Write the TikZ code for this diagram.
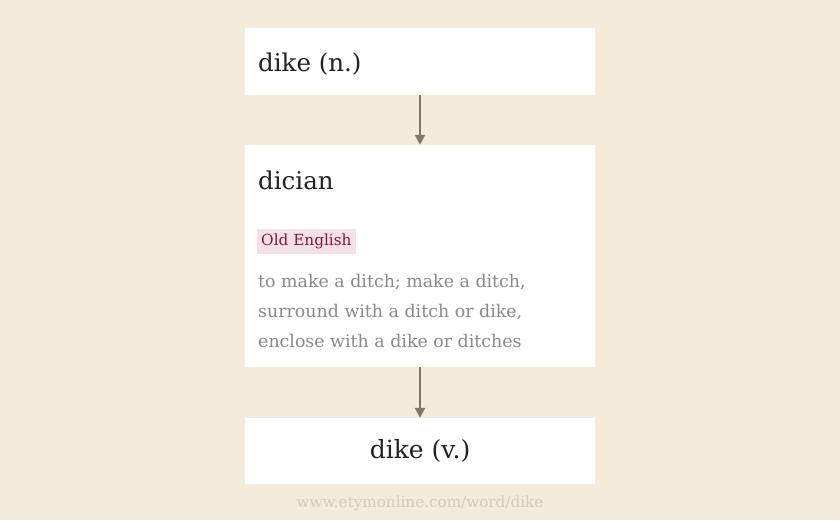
\documentclass[tikz,border=0pt]{standalone}
\usepackage{fontspec}
\setmainfont{DejaVu Serif}
\usetikzlibrary{arrows.meta}
\usetikzlibrary{positioning}
\definecolor{paper}{HTML}{F3ECDA}
\definecolor{pfeil}{HTML}{7E7967}
\definecolor{tagrot}{HTML}{8A1538}
\definecolor{tagbg}{HTML}{F2E2E4}
\definecolor{glossgrau}{HTML}{8A8A8A}
\definecolor{fussgrau}{HTML}{D5CCB8}
\definecolor{schwarz}{HTML}{222222}

\begin{document}
\begin{tikzpicture}[x=1pt, y=-1pt, % Pixel-Koordinaten, y nach unten
  box/.style={fill=white, minimum width=350pt, inner sep=0pt},
  wort/.style={anchor=base west, inner sep=0pt, text=schwarz},
  pfeilstil/.style={draw=pfeil, line width=2.2pt, -{Triangle[length=10pt,width=10pt]}}]
\useasboundingbox[fill=paper] (0,0) rectangle (840,520);
% Kaesten
\node[box, minimum height=67pt] (oben) at (420,61.5) {};
\node[box, minimum height=222pt] (mitte) at (420,256) {};
\node[box, minimum height=66pt] (unten) at (420,451) {};
% Woerter
\node[wort, font=\fontsize{24.5}{24.5}\selectfont] (dikeN) at (258,71) {dike (n.)};
\node[wort, font=\fontsize{24.5}{24.5}\selectfont] (dician) at (258,189) {dician};
\node[font=\fontsize{25}{25}\selectfont, text=schwarz, inner sep=0pt] (dikeV) at (unten.center) {dike (v.)};
% Sprache
\node[fill=tagbg, text=tagrot, font=\fontsize{15.3}{15.3}\selectfont, inner xsep=4pt, inner ysep=4.5pt, anchor=west] (lang) at (257,241.5) {Old English};
% Bedeutung
\foreach \y/\txt in {287/{to make a ditch; make a ditch,}, 317/{surround with a ditch or dike,}, 347/{enclose with a dike or ditches}} {
  \node[wort, text=glossgrau, font=\fontsize{17.4}{17.4}\selectfont] at (258,\y) {\txt};
}
% Pfeile
\draw[pfeilstil] (oben) -- (mitte);
\draw[pfeilstil] (mitte) -- (unten);
% Quelle
\node[text=fussgrau, font=\fontsize{15.2}{15.2}\selectfont] (quelle) at (420,503) {www.etymonline.com/word/dike};
\end{tikzpicture}
\end{document}
